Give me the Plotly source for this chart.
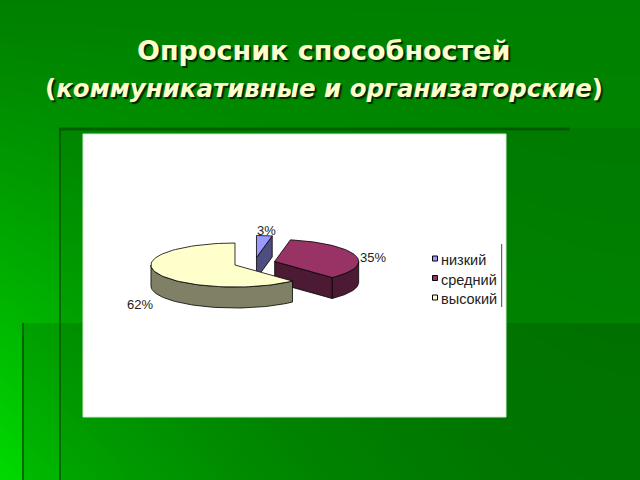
import numpy as np
import plotly.graph_objects as go

labels = ["низкий", "средний", "высокий"]
values = [3, 35, 62]
pct_text = ["3%", "35%", "62%"]
top_colors = ["#9999ff", "#993366", "#ffffcc"]
side_colors = ["#4d4d80", "#4d1a33", "#808066"]

title1 = "<b>Опросник способностей</b>"
title2 = "<b>(<i>коммуникативные и организаторские</i>)</b>"

# pie geometry (pixel units of the slide)
CX, CY = 254.5, 263
RX, RY = 84, 22
DEPTH = 21
EXPLODE = 0.25


def pt(cx, cy, deg):
    t = np.radians(deg)
    return cx + RX * np.sin(t), cy - RY * np.cos(t)


def poly(xs, ys, fill, width=0.8, color="#000000"):
    return go.Scatter(x=list(xs) + [xs[0]], y=list(ys) + [ys[0]], mode="lines",
                      fill="toself", fillcolor=fill,
                      line=dict(color=color, width=width),
                      hoverinfo="skip", showlegend=False)


fig = go.Figure()

# slide background
gx = np.linspace(0, 640, 33)
gy = np.linspace(0, 480, 25)
X, Y = np.meshgrid(gx, gy)
Z = 128 + 16 * (Y / 480) + 74 * (Y / 480) ** 1.2 * (1 - X / 640) ** 2
fig.add_trace(go.Heatmap(x=gx, y=gy, z=Z, zmin=128, zmax=220, zsmooth="best",
                         colorscale=[[0, "rgb(0,128,0)"], [1, "rgb(0,220,0)"]],
                         showscale=False, hoverinfo="skip"))

fig.add_trace(poly([59, 640, 640, 59], [128, 128, 480, 480], "rgba(0,0,0,0.07)", 0, "rgba(0,0,0,0)"))
fig.add_trace(poly([22, 640, 640, 22], [323, 323, 480, 480], "rgba(0,0,0,0.12)", 0, "rgba(0,0,0,0)"))
for xs, ys, w in [([59, 570], [129, 129], 3), ([60, 60], [128, 480], 2), ([23, 23], [323, 480], 2)]:
    fig.add_trace(go.Scatter(x=xs, y=ys, mode="lines", line=dict(color="rgba(0,80,0,0.7)", width=w),
                             hoverinfo="skip", showlegend=False))

# white chart area
fig.add_trace(poly([83, 506, 506, 83], [134, 134, 417, 417], "#ffffff", 1, "#d0ecd0"))

# 3D exploded pie
total = sum(values)
slices = []
start = 0.0
for i, v in enumerate(values):
    a0 = start
    a1 = start + 360.0 * v / total
    mid = (a0 + a1) / 2
    ox, oy = pt(0, 0, mid)
    cx, cy = CX + EXPLODE * ox, CY + EXPLODE * oy
    slices.append((i, a0, a1, mid, cx, cy))
    start = a1

for i, a0, a1, mid, cx, cy in sorted(slices, key=lambda s: s[5]):
    # outer wall (front half only)
    lo, hi = max(a0, 90), min(a1, 270)
    if hi > lo:
        ts = np.linspace(lo, hi, 60)
        ax, ay = pt(cx, cy, ts)
        xs = list(ax) + list(ax[::-1])
        ys = list(ay) + list((ay + DEPTH)[::-1])
        fig.add_trace(poly(xs, ys, side_colors[i]))
    # radial walls
    for a, normal in [(a0, a0 - 90), (a1, a1 + 90)]:
        if np.cos(np.radians(normal)) < -1e-6:
            ex, ey = pt(cx, cy, a)
            fig.add_trace(poly([cx, ex, ex, cx], [cy, ey, ey + DEPTH, cy + DEPTH], side_colors[i]))
    # top face
    ts = np.linspace(a0, a1, 80)
    ax, ay = pt(cx, cy, ts)
    fig.add_trace(poly([cx] + list(ax), [cy] + list(ay), top_colors[i]))

    # percent label
    lx, ly = pt(0, 0, mid)
    tx = cx + 1.22 * lx
    ty = cy + 1.25 * ly
    if np.cos(np.radians(mid)) < -0.3:
        ty += DEPTH + 8
    elif abs(np.sin(np.radians(mid))) > 0.9:
        ty += 4
    fig.add_annotation(x=tx, y=ty, text=pct_text[i], showarrow=False,
                       font=dict(family="Liberation Sans, Arial", size=13, color="#222222"))

# legend
leg_y = [258.5, 278, 297.5]
fig.add_trace(go.Scatter(x=[435] * 3, y=leg_y, mode="markers",
                         marker=dict(symbol="square", size=5, color=top_colors,
                                     line=dict(color="#000000", width=1)),
                         hoverinfo="skip", showlegend=False))
for lab, yy in zip(labels, leg_y):
    fig.add_annotation(x=439, y=yy + 1.5, text=lab, showarrow=False, xanchor="left",
                       font=dict(family="Liberation Sans, Arial", size=14.5, color="#222222"))
fig.add_trace(go.Scatter(x=[501.7, 501.7], y=[244, 307], mode="lines",
                         line=dict(color="#444444", width=1), hoverinfo="skip", showlegend=False))

# title with shadow
for txt, yy, sz in [(title1, 50, 27), (title2, 88, 24.5)]:
    fig.add_annotation(x=324, y=yy, text=txt, showarrow=False,
                       font=dict(family="DejaVu Sans", size=sz, color="#ffffcc",
                                 shadow="2px 2px 1px rgba(0,30,0,0.9)"))

fig.update_layout(
    width=640, height=480,
    margin=dict(l=0, r=0, t=0, b=0),
    xaxis=dict(range=[0, 640], visible=False, fixedrange=True),
    yaxis=dict(range=[480, 0], visible=False, fixedrange=True),
    plot_bgcolor="#008000", paper_bgcolor="#008000",
    showlegend=False,
)

fig.write_html("out.html", config={"displayModeBar": False},
               post_script="document.body.style.margin='0';")
